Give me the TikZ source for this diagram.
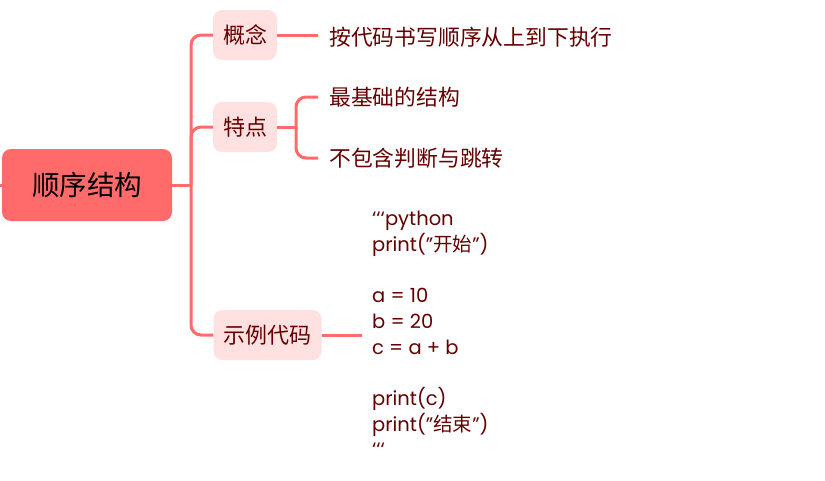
\documentclass[tikz,border=0pt]{standalone}
\usepackage{fontspec}
\setmainfont{Poppins}
\newfontfamily\cjk{Noto Sans CJK SC}
\usetikzlibrary{positioning, calc}

\definecolor{mainred}{HTML}{FF6B6B}
\definecolor{softpink}{HTML}{FFE1E1}
\definecolor{darktext}{HTML}{660000}

\newcommand{\fence}{\symbol{96}\symbol{96}\symbol{96}}

\begin{document}
\begin{tikzpicture}[
    x=1pt, y=-1pt,
    rootbox/.style={
        fill=mainred,
        rounded corners=9pt,
        minimum width=170pt,
        minimum height=72pt,
        font=\cjk\fontsize{27.5}{31}\selectfont,
        text=black
    },
    topicbox/.style={
        fill=softpink,
        rounded corners=9pt,
        minimum height=50pt,
        inner xsep=10pt,
        font=\cjk\fontsize{22}{26}\selectfont,
        text=darktext
    },
    leaftext/.style={
        anchor=west,
        inner sep=0pt,
        font=\cjk\fontsize{21.8}{25}\selectfont,
        text=darktext
    },
    codetext/.style={
        anchor=west,
        inner sep=0pt,
        align=left,
        font=\fontsize{19.5}{25.7}\selectfont,
        text=darktext
    },
    branch/.style={
        draw=mainred,
        line width=3pt,
        rounded corners=10pt
    }
]
\useasboundingbox (0,0) rectangle (825,480);

% --- Root ------------------------------------------------------------------
\node[rootbox] (root) at (87,185) {顺序结构};

% --- Topics ----------------------------------------------------------------
\node[topicbox, minimum width=62pt]  (concept) at (245,35)  {概念};
\node[topicbox, minimum width=62pt]  (feature) at (245,127) {特点};
\node[topicbox, minimum width=107pt] (sample)  at (267.5,335) {示例代码};

% --- Leaves ----------------------------------------------------------------
\node[leaftext] (conceptleaf) at (329,37)  {按代码书写顺序从上到下执行};
\node[leaftext] (basicleaf)   at (329,97)  {最基础的结构};
\node[leaftext] (nojumpleaf)  at (329,158) {不包含判断与跳转};
\node[codetext] (codeleaf)    at (372,334)
    {\fence python\\
     print("{\cjk 开始}")\\[25.7pt]
     a = 10\\
     b = 20\\
     c = a + b\\[25.7pt]
     print(c)\\
     print("{\cjk 结束}")\\
     \fence};

% --- Root to topics ----------------------------------------------------------
\coordinate (trunk) at (191,185);
\draw[branch] (0,185) -- (root.west);
\draw[branch] (root.east) -- (trunk);
\draw[branch] (trunk) -- (trunk |- concept.west) -- (concept.west);
\draw[branch] (trunk) -- (trunk |- feature.west) -- (feature.west);
\draw[branch] (trunk) -- (trunk |- sample.west) -- (sample.west);

% --- Topics to leaves --------------------------------------------------------
\draw[branch] (concept.east) -- ($(conceptleaf.west)+(-11,-2)$);
\coordinate (fork) at (296,127);
\draw[branch] (feature.east) -- (fork);
\draw[branch] (fork) -- (fork |- basicleaf.west) -- ($(basicleaf.west)+(-11,0)$);
\draw[branch] (fork) -- (fork |- nojumpleaf.west) -- ($(nojumpleaf.west)+(-11,0)$);
\draw[branch] (sample.east) -- ($(codeleaf.west)+(-10,1)$);

\end{tikzpicture}
\end{document}
